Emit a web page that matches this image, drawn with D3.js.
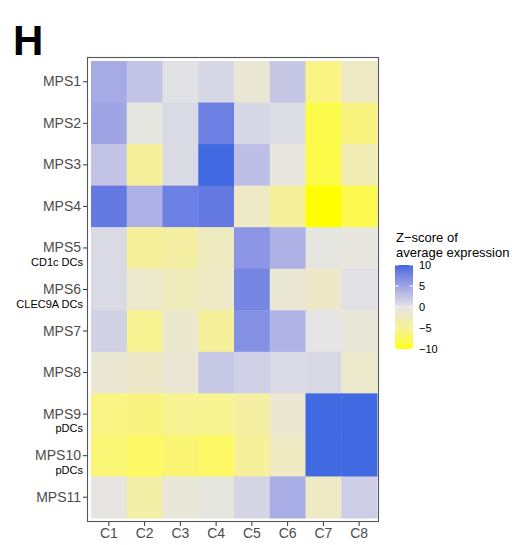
<!DOCTYPE html>
<html>
<head>
<meta charset="utf-8">
<script src="https://cdn.jsdelivr.net/npm/d3@7"></script>
<style>
  html, body { margin: 0; padding: 0; background: #fff; }
  svg { display: block; font-family: "Liberation Sans", Arial, Helvetica, sans-serif; }
</style>
</head>
<body>
<svg id="chart" width="517" height="545"></svg>
<script>
// Clusters (columns) and MPS programs (rows)
const clusters = ["C1", "C2", "C3", "C4", "C5", "C6", "C7", "C8"];
const programs = ["MPS1", "MPS2", "MPS3", "MPS4", "MPS5", "MPS6", "MPS7", "MPS8", "MPS9", "MPS10", "MPS11"];
const programSubtitles = ["", "", "", "", "CD1c DCs", "CLEC9A DCs", "", "", "pDCs", "pDCs", ""];

// Z-score of average expression, one array per program (C1..C8)
const mps1  = [4.5, 2.5, 0.3, 1.0, -1.0, 2.3, -5.8, -2.0];
const mps2  = [5.0, -0.3, 0.8, 8.0, 1.0, 0.6, -8.5, -6.0];
const mps3  = [2.5, -4.5, 0.8, 10.0, 3.0, -0.4, -8.5, -3.0];
const mps4  = [8.5, 4.0, 8.0, 8.5, -2.0, -4.5, -10.0, -8.3];
const mps5  = [0.8, -4.5, -4.0, -2.3, 6.2, 4.0, -0.3, -0.4];
const mps6  = [0.8, -1.5, -2.6, -2.0, 7.5, -1.0, -1.8, 0.4];
const mps7  = [1.5, -5.0, -1.3, -4.5, 6.7, 3.8, 0.0, -0.9];
const mps8  = [-1.0, -1.8, -1.0, 2.2, 1.6, 0.8, 0.9, -1.5];
const mps9  = [-5.8, -6.0, -5.0, -5.0, -4.0, -1.1, 10.0, 10.0];
const mps10 = [-6.5, -7.3, -6.6, -7.3, -4.5, -2.2, 10.0, 10.0];
const mps11 = [-0.2, -3.8, -0.7, -0.3, 1.2, 4.3, -2.0, 1.8];
const zscores = [mps1, mps2, mps3, mps4, mps5, mps6, mps7, mps8, mps9, mps10, mps11];

const legendTicks = [10, 5, 0, -5, -10];

const svg = d3.select("#chart");

// Panel label
svg.append("text")
  .attr("x", 13).attr("y", 55)
  .attr("font-size", 42).attr("font-weight", "bold").attr("fill", "#000")
  .text("H");

// Panel frame and tile area
const panel = { x0: 87, y0: 57, x1: 379, y1: 522 };
const tileArea = { x0: 91, y0: 61, x1: 377, y1: 518 };

const x = d3.scaleBand().domain(clusters).range([tileArea.x0, tileArea.x1]).padding(0);
const y = d3.scaleBand().domain(programs).range([tileArea.y0, tileArea.y1]).padding(0);

// Diverging fill: yellow (low) -> grey90 (0) -> royal blue (high), Lab interpolation
const color = d3.scaleLinear()
  .domain([-10, 0, 10])
  .range(["#ffff00", "#e5e5e5", "#4169e1"])
  .interpolate(d3.interpolateLab)
  .clamp(true);

svg.append("rect")
  .attr("x", panel.x0).attr("y", panel.y0)
  .attr("width", panel.x1 - panel.x0).attr("height", panel.y1 - panel.y0)
  .attr("fill", "#fff");

const cells = [];
programs.forEach((p, i) => clusters.forEach((c, j) => cells.push({ p, c, v: zscores[i][j] })));

svg.append("g").selectAll("rect")
  .data(cells)
  .join("rect")
  .attr("x", d => x(d.c))
  .attr("y", d => y(d.p))
  .attr("width", x.bandwidth() + 0.5)
  .attr("height", y.bandwidth() + 0.5)
  .attr("fill", d => color(d.v));

svg.append("rect")
  .attr("x", panel.x0 + 0.5).attr("y", panel.y0 + 0.5)
  .attr("width", panel.x1 - panel.x0 - 1).attr("height", panel.y1 - panel.y0 - 1)
  .attr("fill", "none").attr("stroke", "#555").attr("stroke-width", 1.1);

// Bottom axis
const xAxis = svg.append("g")
  .attr("transform", `translate(0,${panel.y1})`)
  .call(d3.axisBottom(x).tickSize(4).tickPadding(2));
xAxis.select(".domain").remove();
xAxis.selectAll(".tick line").attr("stroke", "#333");
xAxis.selectAll(".tick text")
  .attr("font-size", 14).attr("fill", "#4d4d4d")
  .attr("font-family", "Liberation Sans, Arial, sans-serif");

// Left axis
const yAxis = svg.append("g")
  .attr("transform", `translate(${panel.x0},0)`)
  .call(d3.axisLeft(y).tickSize(4).tickPadding(2));
yAxis.select(".domain").remove();
yAxis.selectAll(".tick line").attr("stroke", "#333");
yAxis.selectAll(".tick text")
  .attr("font-size", 14).attr("fill", "#4d4d4d")
  .attr("font-family", "Liberation Sans, Arial, sans-serif");

// Cell-type annotations under selected program labels
svg.append("g").selectAll("text")
  .data(programs.map((p, i) => ({ p, s: programSubtitles[i] })).filter(d => d.s))
  .join("text")
  .attr("x", panel.x0 - 4)
  .attr("y", d => y(d.p) + y.bandwidth() / 2 + 18)
  .attr("text-anchor", "end")
  .attr("font-size", 11)
  .attr("fill", "#000")
  .text(d => d.s);

// Colour bar legend
const legend = { x: 395, y0: 265, y1: 349, w: 18 };
const lg = svg.append("g");
lg.append("text").attr("x", 396).attr("y", 242)
  .attr("font-size", 13).attr("fill", "#000").text("Z\u2212score of");
lg.append("text").attr("x", 396).attr("y", 257)
  .attr("font-size", 13).attr("fill", "#000").text("average expression");

const defs = svg.append("defs");
const grad = defs.append("linearGradient")
  .attr("id", "zgrad").attr("x1", 0).attr("y1", 1).attr("x2", 0).attr("y2", 0);
d3.range(0, 21).forEach(k => {
  const v = -10 + k;
  grad.append("stop").attr("offset", k / 20).attr("stop-color", color(v));
});

const ly = d3.scaleLinear().domain([-10, 10]).range([legend.y1, legend.y0]);
lg.append("rect")
  .attr("x", legend.x).attr("y", legend.y0)
  .attr("width", legend.w).attr("height", legend.y1 - legend.y0)
  .attr("fill", "url(#zgrad)");

lg.selectAll(".tickL")
  .data(legendTicks)
  .join("line")
  .attr("x1", legend.x).attr("x2", legend.x + 3.6)
  .attr("y1", d => ly(d)).attr("y2", d => ly(d))
  .attr("stroke", "#fff").attr("stroke-width", 1);
lg.selectAll(".tickR")
  .data(legendTicks)
  .join("line")
  .attr("x1", legend.x + legend.w - 3.6).attr("x2", legend.x + legend.w)
  .attr("y1", d => ly(d)).attr("y2", d => ly(d))
  .attr("stroke", "#fff").attr("stroke-width", 1);

lg.selectAll(".lbl")
  .data(legendTicks)
  .join("text")
  .attr("x", 419)
  .attr("y", d => ly(d))
  .attr("dy", "0.35em")
  .attr("font-size", 11)
  .attr("fill", "#000")
  .text(d => d3.format("d")(d).replace("-", "\u2212"));
</script>
</body>
</html>
